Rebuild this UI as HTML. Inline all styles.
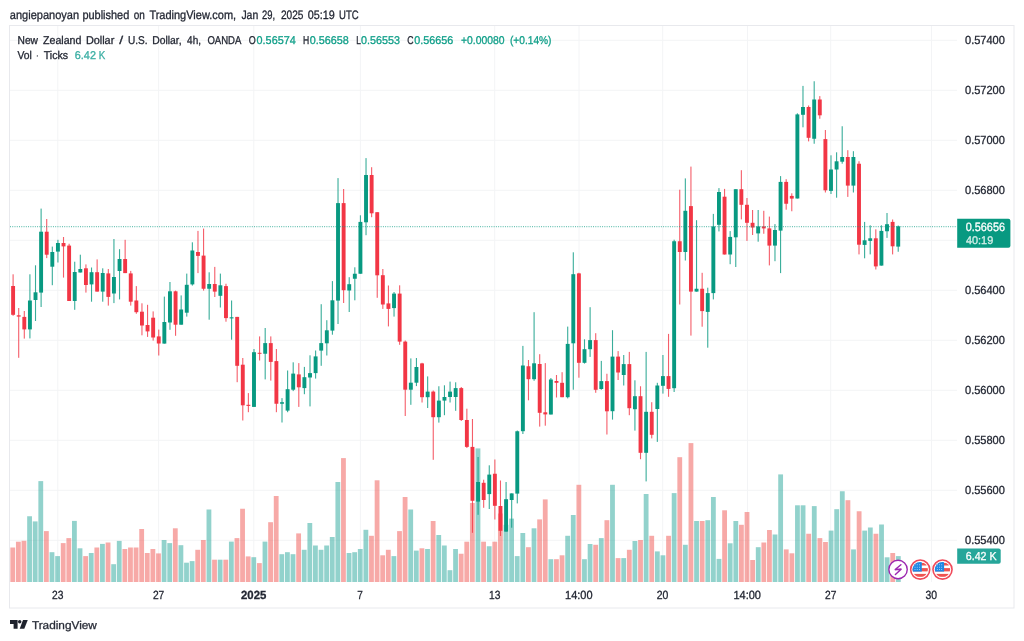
<!DOCTYPE html>
<html lang="en"><head><meta charset="utf-8"><title>NZDUSD chart</title>
<style>html,body{margin:0;padding:0;background:#fff;}body{width:1024px;height:641px;overflow:hidden;}svg{display:block;will-change:transform;}</style>
</head><body>
<svg width="1024" height="641" viewBox="0 0 1024 641" font-family="'Liberation Sans', Arial, sans-serif" text-rendering="geometricPrecision">
<rect width="1024" height="641" fill="#fff"/>
<g stroke="#f3f4f6" stroke-width="1">
<line x1="10" y1="40.3" x2="957" y2="40.3"/>
<line x1="10" y1="90.3" x2="957" y2="90.3"/>
<line x1="10" y1="140.3" x2="957" y2="140.3"/>
<line x1="10" y1="190.3" x2="957" y2="190.3"/>
<line x1="10" y1="240.3" x2="957" y2="240.3"/>
<line x1="10" y1="290.3" x2="957" y2="290.3"/>
<line x1="10" y1="340.3" x2="957" y2="340.3"/>
<line x1="10" y1="390.3" x2="957" y2="390.3"/>
<line x1="10" y1="440.3" x2="957" y2="440.3"/>
<line x1="10" y1="490.3" x2="957" y2="490.3"/>
<line x1="10" y1="540.3" x2="957" y2="540.3"/>
<line x1="57.8" y1="25.7" x2="57.8" y2="582"/>
<line x1="158.6" y1="25.7" x2="158.6" y2="582"/>
<line x1="253.8" y1="25.7" x2="253.8" y2="582"/>
<line x1="360.4" y1="25.7" x2="360.4" y2="582"/>
<line x1="494.7" y1="25.7" x2="494.7" y2="582"/>
<line x1="579.0" y1="25.7" x2="579.0" y2="582"/>
<line x1="662.7" y1="25.7" x2="662.7" y2="582"/>
<line x1="747.5" y1="25.7" x2="747.5" y2="582"/>
<line x1="830.7" y1="25.7" x2="830.7" y2="582"/>
<line x1="931.5" y1="25.7" x2="931.5" y2="582"/>
</g>
<g id="vol">
<rect x="10.35" y="547.50" width="4.8" height="34.50" fill="#ef5350" fill-opacity="0.5"/>
<rect x="15.96" y="541.70" width="4.8" height="40.30" fill="#ef5350" fill-opacity="0.5"/>
<rect x="21.56" y="540.80" width="4.8" height="41.20" fill="#ef5350" fill-opacity="0.5"/>
<rect x="27.17" y="516.25" width="4.8" height="65.75" fill="#26a69a" fill-opacity="0.5"/>
<rect x="32.77" y="521.40" width="4.8" height="60.60" fill="#26a69a" fill-opacity="0.5"/>
<rect x="38.38" y="481.10" width="4.8" height="100.90" fill="#26a69a" fill-opacity="0.5"/>
<rect x="43.98" y="531.10" width="4.8" height="50.90" fill="#ef5350" fill-opacity="0.5"/>
<rect x="49.59" y="552.20" width="4.8" height="29.80" fill="#26a69a" fill-opacity="0.5"/>
<rect x="55.19" y="556.10" width="4.8" height="25.90" fill="#26a69a" fill-opacity="0.5"/>
<rect x="60.80" y="543.10" width="4.8" height="38.90" fill="#ef5350" fill-opacity="0.5"/>
<rect x="66.40" y="538.10" width="4.8" height="43.90" fill="#ef5350" fill-opacity="0.5"/>
<rect x="72.00" y="520.90" width="4.8" height="61.10" fill="#26a69a" fill-opacity="0.5"/>
<rect x="77.61" y="548.30" width="4.8" height="33.70" fill="#26a69a" fill-opacity="0.5"/>
<rect x="83.22" y="556.10" width="4.8" height="25.90" fill="#ef5350" fill-opacity="0.5"/>
<rect x="88.82" y="553.00" width="4.8" height="29.00" fill="#26a69a" fill-opacity="0.5"/>
<rect x="94.42" y="547.50" width="4.8" height="34.50" fill="#ef5350" fill-opacity="0.5"/>
<rect x="100.03" y="543.90" width="4.8" height="38.10" fill="#26a69a" fill-opacity="0.5"/>
<rect x="105.64" y="542.50" width="4.8" height="39.50" fill="#ef5350" fill-opacity="0.5"/>
<rect x="111.24" y="564.20" width="4.8" height="17.80" fill="#26a69a" fill-opacity="0.5"/>
<rect x="116.84" y="540.90" width="4.8" height="41.10" fill="#26a69a" fill-opacity="0.5"/>
<rect x="122.45" y="549.00" width="4.8" height="33.00" fill="#ef5350" fill-opacity="0.5"/>
<rect x="128.06" y="547.50" width="4.8" height="34.50" fill="#ef5350" fill-opacity="0.5"/>
<rect x="133.66" y="547.50" width="4.8" height="34.50" fill="#ef5350" fill-opacity="0.5"/>
<rect x="139.27" y="529.00" width="4.8" height="53.00" fill="#ef5350" fill-opacity="0.5"/>
<rect x="144.87" y="553.00" width="4.8" height="29.00" fill="#ef5350" fill-opacity="0.5"/>
<rect x="150.47" y="549.00" width="4.8" height="33.00" fill="#ef5350" fill-opacity="0.5"/>
<rect x="156.08" y="553.40" width="4.8" height="28.60" fill="#ef5350" fill-opacity="0.5"/>
<rect x="161.69" y="540.00" width="4.8" height="42.00" fill="#26a69a" fill-opacity="0.5"/>
<rect x="167.29" y="543.10" width="4.8" height="38.90" fill="#26a69a" fill-opacity="0.5"/>
<rect x="172.90" y="528.30" width="4.8" height="53.70" fill="#ef5350" fill-opacity="0.5"/>
<rect x="178.50" y="545.20" width="4.8" height="36.80" fill="#26a69a" fill-opacity="0.5"/>
<rect x="184.11" y="562.70" width="4.8" height="19.30" fill="#26a69a" fill-opacity="0.5"/>
<rect x="189.71" y="561.10" width="4.8" height="20.90" fill="#26a69a" fill-opacity="0.5"/>
<rect x="195.31" y="549.80" width="4.8" height="32.20" fill="#ef5350" fill-opacity="0.5"/>
<rect x="200.92" y="540.00" width="4.8" height="42.00" fill="#ef5350" fill-opacity="0.5"/>
<rect x="206.53" y="509.50" width="4.8" height="72.50" fill="#26a69a" fill-opacity="0.5"/>
<rect x="212.13" y="559.70" width="4.8" height="22.30" fill="#ef5350" fill-opacity="0.5"/>
<rect x="217.74" y="559.70" width="4.8" height="22.30" fill="#26a69a" fill-opacity="0.5"/>
<rect x="223.34" y="559.70" width="4.8" height="22.30" fill="#ef5350" fill-opacity="0.5"/>
<rect x="228.95" y="541.60" width="4.8" height="40.40" fill="#26a69a" fill-opacity="0.5"/>
<rect x="234.55" y="538.10" width="4.8" height="43.90" fill="#ef5350" fill-opacity="0.5"/>
<rect x="240.16" y="508.75" width="4.8" height="73.25" fill="#ef5350" fill-opacity="0.5"/>
<rect x="245.76" y="556.40" width="4.8" height="25.60" fill="#ef5350" fill-opacity="0.5"/>
<rect x="251.37" y="557.20" width="4.8" height="24.80" fill="#26a69a" fill-opacity="0.5"/>
<rect x="256.97" y="563.10" width="4.8" height="18.90" fill="#ef5350" fill-opacity="0.5"/>
<rect x="262.58" y="541.60" width="4.8" height="40.40" fill="#26a69a" fill-opacity="0.5"/>
<rect x="268.18" y="522.20" width="4.8" height="59.80" fill="#ef5350" fill-opacity="0.5"/>
<rect x="273.79" y="496.00" width="4.8" height="86.00" fill="#ef5350" fill-opacity="0.5"/>
<rect x="279.39" y="554.20" width="4.8" height="27.80" fill="#26a69a" fill-opacity="0.5"/>
<rect x="285.00" y="552.20" width="4.8" height="29.80" fill="#26a69a" fill-opacity="0.5"/>
<rect x="290.60" y="554.20" width="4.8" height="27.80" fill="#26a69a" fill-opacity="0.5"/>
<rect x="296.21" y="533.40" width="4.8" height="48.60" fill="#ef5350" fill-opacity="0.5"/>
<rect x="301.81" y="549.80" width="4.8" height="32.20" fill="#26a69a" fill-opacity="0.5"/>
<rect x="307.42" y="523.00" width="4.8" height="59.00" fill="#26a69a" fill-opacity="0.5"/>
<rect x="313.02" y="545.50" width="4.8" height="36.50" fill="#26a69a" fill-opacity="0.5"/>
<rect x="318.63" y="549.80" width="4.8" height="32.20" fill="#26a69a" fill-opacity="0.5"/>
<rect x="324.23" y="545.50" width="4.8" height="36.50" fill="#26a69a" fill-opacity="0.5"/>
<rect x="329.84" y="537.00" width="4.8" height="45.00" fill="#26a69a" fill-opacity="0.5"/>
<rect x="335.44" y="482.00" width="4.8" height="100.00" fill="#26a69a" fill-opacity="0.5"/>
<rect x="341.05" y="458.10" width="4.8" height="123.90" fill="#ef5350" fill-opacity="0.5"/>
<rect x="346.65" y="553.00" width="4.8" height="29.00" fill="#26a69a" fill-opacity="0.5"/>
<rect x="352.26" y="552.20" width="4.8" height="29.80" fill="#26a69a" fill-opacity="0.5"/>
<rect x="357.86" y="549.00" width="4.8" height="33.00" fill="#26a69a" fill-opacity="0.5"/>
<rect x="363.47" y="529.80" width="4.8" height="52.20" fill="#26a69a" fill-opacity="0.5"/>
<rect x="369.07" y="535.80" width="4.8" height="46.20" fill="#ef5350" fill-opacity="0.5"/>
<rect x="374.68" y="480.30" width="4.8" height="101.70" fill="#ef5350" fill-opacity="0.5"/>
<rect x="380.28" y="555.30" width="4.8" height="26.70" fill="#ef5350" fill-opacity="0.5"/>
<rect x="385.89" y="549.80" width="4.8" height="32.20" fill="#ef5350" fill-opacity="0.5"/>
<rect x="391.49" y="556.10" width="4.8" height="25.90" fill="#26a69a" fill-opacity="0.5"/>
<rect x="397.10" y="531.10" width="4.8" height="50.90" fill="#ef5350" fill-opacity="0.5"/>
<rect x="402.70" y="497.00" width="4.8" height="85.00" fill="#ef5350" fill-opacity="0.5"/>
<rect x="408.31" y="509.50" width="4.8" height="72.50" fill="#26a69a" fill-opacity="0.5"/>
<rect x="413.91" y="550.60" width="4.8" height="31.40" fill="#26a69a" fill-opacity="0.5"/>
<rect x="419.52" y="548.30" width="4.8" height="33.70" fill="#ef5350" fill-opacity="0.5"/>
<rect x="425.12" y="549.00" width="4.8" height="33.00" fill="#26a69a" fill-opacity="0.5"/>
<rect x="430.73" y="521.00" width="4.8" height="61.00" fill="#ef5350" fill-opacity="0.5"/>
<rect x="436.33" y="535.00" width="4.8" height="47.00" fill="#26a69a" fill-opacity="0.5"/>
<rect x="441.94" y="545.50" width="4.8" height="36.50" fill="#26a69a" fill-opacity="0.5"/>
<rect x="447.54" y="570.20" width="4.8" height="11.80" fill="#26a69a" fill-opacity="0.5"/>
<rect x="453.15" y="549.00" width="4.8" height="33.00" fill="#26a69a" fill-opacity="0.5"/>
<rect x="458.75" y="553.75" width="4.8" height="28.25" fill="#ef5350" fill-opacity="0.5"/>
<rect x="464.36" y="541.70" width="4.8" height="40.30" fill="#ef5350" fill-opacity="0.5"/>
<rect x="469.96" y="503.00" width="4.8" height="79.00" fill="#ef5350" fill-opacity="0.5"/>
<rect x="475.57" y="448.40" width="4.8" height="133.60" fill="#26a69a" fill-opacity="0.5"/>
<rect x="481.17" y="541.70" width="4.8" height="40.30" fill="#ef5350" fill-opacity="0.5"/>
<rect x="486.78" y="546.25" width="4.8" height="35.75" fill="#26a69a" fill-opacity="0.5"/>
<rect x="492.38" y="541.70" width="4.8" height="40.30" fill="#ef5350" fill-opacity="0.5"/>
<rect x="497.99" y="513.50" width="4.8" height="68.50" fill="#ef5350" fill-opacity="0.5"/>
<rect x="503.59" y="524.80" width="4.8" height="57.20" fill="#26a69a" fill-opacity="0.5"/>
<rect x="509.20" y="518.60" width="4.8" height="63.40" fill="#26a69a" fill-opacity="0.5"/>
<rect x="514.80" y="556.10" width="4.8" height="25.90" fill="#26a69a" fill-opacity="0.5"/>
<rect x="520.41" y="533.00" width="4.8" height="49.00" fill="#26a69a" fill-opacity="0.5"/>
<rect x="526.01" y="547.20" width="4.8" height="34.80" fill="#ef5350" fill-opacity="0.5"/>
<rect x="531.62" y="528.30" width="4.8" height="53.70" fill="#26a69a" fill-opacity="0.5"/>
<rect x="537.22" y="519.40" width="4.8" height="62.60" fill="#ef5350" fill-opacity="0.5"/>
<rect x="542.83" y="499.40" width="4.8" height="82.60" fill="#ef5350" fill-opacity="0.5"/>
<rect x="548.43" y="559.20" width="4.8" height="22.80" fill="#26a69a" fill-opacity="0.5"/>
<rect x="554.04" y="559.20" width="4.8" height="22.80" fill="#ef5350" fill-opacity="0.5"/>
<rect x="559.64" y="555.30" width="4.8" height="26.70" fill="#ef5350" fill-opacity="0.5"/>
<rect x="565.25" y="535.80" width="4.8" height="46.20" fill="#26a69a" fill-opacity="0.5"/>
<rect x="570.85" y="515.00" width="4.8" height="67.00" fill="#26a69a" fill-opacity="0.5"/>
<rect x="576.46" y="484.80" width="4.8" height="97.20" fill="#ef5350" fill-opacity="0.5"/>
<rect x="582.06" y="559.20" width="4.8" height="22.80" fill="#26a69a" fill-opacity="0.5"/>
<rect x="587.67" y="544.00" width="4.8" height="38.00" fill="#26a69a" fill-opacity="0.5"/>
<rect x="593.27" y="544.80" width="4.8" height="37.20" fill="#ef5350" fill-opacity="0.5"/>
<rect x="598.88" y="538.10" width="4.8" height="43.90" fill="#26a69a" fill-opacity="0.5"/>
<rect x="604.48" y="520.20" width="4.8" height="61.80" fill="#ef5350" fill-opacity="0.5"/>
<rect x="610.09" y="484.80" width="4.8" height="97.20" fill="#26a69a" fill-opacity="0.5"/>
<rect x="615.69" y="558.10" width="4.8" height="23.90" fill="#ef5350" fill-opacity="0.5"/>
<rect x="621.30" y="558.10" width="4.8" height="23.90" fill="#26a69a" fill-opacity="0.5"/>
<rect x="626.90" y="549.80" width="4.8" height="32.20" fill="#ef5350" fill-opacity="0.5"/>
<rect x="632.51" y="541.00" width="4.8" height="41.00" fill="#26a69a" fill-opacity="0.5"/>
<rect x="638.11" y="540.00" width="4.8" height="42.00" fill="#ef5350" fill-opacity="0.5"/>
<rect x="643.72" y="494.00" width="4.8" height="88.00" fill="#26a69a" fill-opacity="0.5"/>
<rect x="649.32" y="535.80" width="4.8" height="46.20" fill="#ef5350" fill-opacity="0.5"/>
<rect x="654.93" y="551.40" width="4.8" height="30.60" fill="#26a69a" fill-opacity="0.5"/>
<rect x="660.53" y="555.30" width="4.8" height="26.70" fill="#26a69a" fill-opacity="0.5"/>
<rect x="666.14" y="535.80" width="4.8" height="46.20" fill="#ef5350" fill-opacity="0.5"/>
<rect x="671.74" y="493.10" width="4.8" height="88.90" fill="#26a69a" fill-opacity="0.5"/>
<rect x="677.35" y="457.20" width="4.8" height="124.80" fill="#ef5350" fill-opacity="0.5"/>
<rect x="682.95" y="544.80" width="4.8" height="37.20" fill="#26a69a" fill-opacity="0.5"/>
<rect x="688.56" y="443.10" width="4.8" height="138.90" fill="#ef5350" fill-opacity="0.5"/>
<rect x="694.16" y="521.00" width="4.8" height="61.00" fill="#26a69a" fill-opacity="0.5"/>
<rect x="699.77" y="521.00" width="4.8" height="61.00" fill="#ef5350" fill-opacity="0.5"/>
<rect x="705.37" y="520.20" width="4.8" height="61.80" fill="#26a69a" fill-opacity="0.5"/>
<rect x="710.98" y="497.00" width="4.8" height="85.00" fill="#26a69a" fill-opacity="0.5"/>
<rect x="716.58" y="558.90" width="4.8" height="23.10" fill="#26a69a" fill-opacity="0.5"/>
<rect x="722.19" y="510.30" width="4.8" height="71.70" fill="#ef5350" fill-opacity="0.5"/>
<rect x="727.79" y="543.30" width="4.8" height="38.70" fill="#26a69a" fill-opacity="0.5"/>
<rect x="733.40" y="521.00" width="4.8" height="61.00" fill="#26a69a" fill-opacity="0.5"/>
<rect x="739.00" y="524.80" width="4.8" height="57.20" fill="#ef5350" fill-opacity="0.5"/>
<rect x="744.61" y="512.00" width="4.8" height="70.00" fill="#ef5350" fill-opacity="0.5"/>
<rect x="750.21" y="560.00" width="4.8" height="22.00" fill="#ef5350" fill-opacity="0.5"/>
<rect x="755.82" y="547.20" width="4.8" height="34.80" fill="#26a69a" fill-opacity="0.5"/>
<rect x="761.42" y="542.50" width="4.8" height="39.50" fill="#ef5350" fill-opacity="0.5"/>
<rect x="767.03" y="530.00" width="4.8" height="52.00" fill="#ef5350" fill-opacity="0.5"/>
<rect x="772.63" y="534.50" width="4.8" height="47.50" fill="#26a69a" fill-opacity="0.5"/>
<rect x="778.24" y="474.40" width="4.8" height="107.60" fill="#26a69a" fill-opacity="0.5"/>
<rect x="783.84" y="549.40" width="4.8" height="32.60" fill="#ef5350" fill-opacity="0.5"/>
<rect x="789.45" y="553.30" width="4.8" height="28.70" fill="#ef5350" fill-opacity="0.5"/>
<rect x="795.05" y="505.30" width="4.8" height="76.70" fill="#26a69a" fill-opacity="0.5"/>
<rect x="800.66" y="505.30" width="4.8" height="76.70" fill="#26a69a" fill-opacity="0.5"/>
<rect x="806.26" y="533.75" width="4.8" height="48.25" fill="#ef5350" fill-opacity="0.5"/>
<rect x="811.87" y="506.10" width="4.8" height="75.90" fill="#26a69a" fill-opacity="0.5"/>
<rect x="817.47" y="538.10" width="4.8" height="43.90" fill="#ef5350" fill-opacity="0.5"/>
<rect x="823.08" y="542.00" width="4.8" height="40.00" fill="#ef5350" fill-opacity="0.5"/>
<rect x="828.68" y="530.60" width="4.8" height="51.40" fill="#26a69a" fill-opacity="0.5"/>
<rect x="834.29" y="509.20" width="4.8" height="72.80" fill="#26a69a" fill-opacity="0.5"/>
<rect x="839.89" y="491.25" width="4.8" height="90.75" fill="#26a69a" fill-opacity="0.5"/>
<rect x="845.50" y="500.20" width="4.8" height="81.80" fill="#ef5350" fill-opacity="0.5"/>
<rect x="851.10" y="549.40" width="4.8" height="32.60" fill="#26a69a" fill-opacity="0.5"/>
<rect x="856.71" y="511.25" width="4.8" height="70.75" fill="#ef5350" fill-opacity="0.5"/>
<rect x="862.31" y="530.60" width="4.8" height="51.40" fill="#26a69a" fill-opacity="0.5"/>
<rect x="867.92" y="527.50" width="4.8" height="54.50" fill="#26a69a" fill-opacity="0.5"/>
<rect x="873.52" y="533.75" width="4.8" height="48.25" fill="#ef5350" fill-opacity="0.5"/>
<rect x="879.13" y="524.50" width="4.8" height="57.50" fill="#26a69a" fill-opacity="0.5"/>
<rect x="884.73" y="557.30" width="4.8" height="24.70" fill="#26a69a" fill-opacity="0.5"/>
<rect x="890.34" y="553.00" width="4.8" height="29.00" fill="#ef5350" fill-opacity="0.5"/>
<rect x="895.94" y="556.10" width="4.8" height="25.90" fill="#26a69a" fill-opacity="0.5"/>
</g>
<g id="candles">
<rect x="12.55" y="274.30" width="1.1" height="41.50" fill="#F23645" opacity="0.8"/>
<rect x="11.15" y="286.00" width="3.9" height="28.80" fill="#F23645"/>
<rect x="18.15" y="308.00" width="1.1" height="49.80" fill="#F23645" opacity="0.8"/>
<rect x="16.75" y="315.30" width="3.9" height="1.30" fill="#F23645"/>
<rect x="23.75" y="311.00" width="1.1" height="27.60" fill="#F23645" opacity="0.8"/>
<rect x="22.35" y="316.90" width="3.9" height="12.50" fill="#F23645"/>
<rect x="29.36" y="274.30" width="1.1" height="64.10" fill="#089981" opacity="0.8"/>
<rect x="27.96" y="300.50" width="3.9" height="28.90" fill="#089981"/>
<rect x="34.96" y="265.30" width="1.1" height="55.70" fill="#089981" opacity="0.8"/>
<rect x="33.56" y="292.30" width="3.9" height="7.70" fill="#089981"/>
<rect x="40.56" y="208.60" width="1.1" height="98.40" fill="#089981" opacity="0.8"/>
<rect x="39.16" y="231.70" width="3.9" height="60.90" fill="#089981"/>
<rect x="46.16" y="219.00" width="1.1" height="39.10" fill="#F23645" opacity="0.8"/>
<rect x="44.76" y="231.70" width="3.9" height="23.00" fill="#F23645"/>
<rect x="51.76" y="246.60" width="1.1" height="38.60" fill="#089981" opacity="0.8"/>
<rect x="50.36" y="252.00" width="3.9" height="14.70" fill="#089981"/>
<rect x="57.37" y="239.80" width="1.1" height="22.70" fill="#089981" opacity="0.8"/>
<rect x="55.97" y="243.00" width="3.9" height="8.60" fill="#089981"/>
<rect x="62.97" y="237.00" width="1.1" height="40.60" fill="#F23645" opacity="0.8"/>
<rect x="61.57" y="243.00" width="3.9" height="3.40" fill="#F23645"/>
<rect x="68.57" y="243.75" width="1.1" height="57.25" fill="#F23645" opacity="0.8"/>
<rect x="67.17" y="245.60" width="3.9" height="55.40" fill="#F23645"/>
<rect x="74.17" y="261.70" width="1.1" height="48.10" fill="#089981" opacity="0.8"/>
<rect x="72.77" y="272.00" width="3.9" height="29.00" fill="#089981"/>
<rect x="79.77" y="254.70" width="1.1" height="17.80" fill="#089981" opacity="0.8"/>
<rect x="78.37" y="269.00" width="3.9" height="3.50" fill="#089981"/>
<rect x="85.38" y="264.40" width="1.1" height="28.20" fill="#F23645" opacity="0.8"/>
<rect x="83.98" y="268.30" width="3.9" height="16.70" fill="#F23645"/>
<rect x="90.98" y="267.50" width="1.1" height="34.20" fill="#089981" opacity="0.8"/>
<rect x="89.58" y="272.20" width="3.9" height="12.20" fill="#089981"/>
<rect x="96.58" y="259.40" width="1.1" height="32.20" fill="#F23645" opacity="0.8"/>
<rect x="95.18" y="272.20" width="3.9" height="19.40" fill="#F23645"/>
<rect x="102.18" y="268.30" width="1.1" height="33.40" fill="#089981" opacity="0.8"/>
<rect x="100.78" y="273.00" width="3.9" height="18.60" fill="#089981"/>
<rect x="107.78" y="269.00" width="1.1" height="36.60" fill="#F23645" opacity="0.8"/>
<rect x="106.38" y="273.40" width="3.9" height="23.50" fill="#F23645"/>
<rect x="113.39" y="239.00" width="1.1" height="64.10" fill="#089981" opacity="0.8"/>
<rect x="111.99" y="277.00" width="3.9" height="16.50" fill="#089981"/>
<rect x="118.99" y="249.20" width="1.1" height="50.20" fill="#089981" opacity="0.8"/>
<rect x="117.59" y="259.00" width="3.9" height="12.00" fill="#089981"/>
<rect x="124.59" y="239.80" width="1.1" height="33.30" fill="#F23645" opacity="0.8"/>
<rect x="123.19" y="259.00" width="3.9" height="14.10" fill="#F23645"/>
<rect x="130.19" y="270.90" width="1.1" height="34.70" fill="#F23645" opacity="0.8"/>
<rect x="128.79" y="273.40" width="3.9" height="28.30" fill="#F23645"/>
<rect x="135.79" y="286.10" width="1.1" height="27.65" fill="#F23645" opacity="0.8"/>
<rect x="134.39" y="300.50" width="3.9" height="11.70" fill="#F23645"/>
<rect x="141.40" y="303.30" width="1.1" height="32.00" fill="#F23645" opacity="0.8"/>
<rect x="140.00" y="311.70" width="3.9" height="13.80" fill="#F23645"/>
<rect x="147.00" y="304.80" width="1.1" height="32.10" fill="#F23645" opacity="0.8"/>
<rect x="145.60" y="325.00" width="3.9" height="6.40" fill="#F23645"/>
<rect x="152.60" y="311.40" width="1.1" height="29.20" fill="#F23645" opacity="0.8"/>
<rect x="151.20" y="317.70" width="3.9" height="19.80" fill="#F23645"/>
<rect x="158.20" y="329.60" width="1.1" height="25.90" fill="#F23645" opacity="0.8"/>
<rect x="156.80" y="336.40" width="3.9" height="7.10" fill="#F23645"/>
<rect x="163.80" y="296.60" width="1.1" height="47.00" fill="#089981" opacity="0.8"/>
<rect x="162.40" y="322.00" width="3.9" height="21.60" fill="#089981"/>
<rect x="169.41" y="282.00" width="1.1" height="47.80" fill="#089981" opacity="0.8"/>
<rect x="168.01" y="291.30" width="3.9" height="31.20" fill="#089981"/>
<rect x="175.01" y="290.60" width="1.1" height="45.20" fill="#F23645" opacity="0.8"/>
<rect x="173.61" y="291.30" width="3.9" height="33.40" fill="#F23645"/>
<rect x="180.61" y="295.40" width="1.1" height="29.30" fill="#089981" opacity="0.8"/>
<rect x="179.21" y="309.50" width="3.9" height="15.20" fill="#089981"/>
<rect x="186.21" y="273.60" width="1.1" height="43.00" fill="#089981" opacity="0.8"/>
<rect x="184.81" y="284.80" width="3.9" height="27.90" fill="#089981"/>
<rect x="191.81" y="242.30" width="1.1" height="43.30" fill="#089981" opacity="0.8"/>
<rect x="190.41" y="250.50" width="3.9" height="33.90" fill="#089981"/>
<rect x="197.42" y="230.90" width="1.1" height="42.20" fill="#F23645" opacity="0.8"/>
<rect x="196.02" y="252.00" width="3.9" height="3.90" fill="#F23645"/>
<rect x="203.02" y="228.60" width="1.1" height="62.00" fill="#F23645" opacity="0.8"/>
<rect x="201.62" y="255.60" width="3.9" height="33.15" fill="#F23645"/>
<rect x="208.62" y="272.30" width="1.1" height="47.40" fill="#089981" opacity="0.8"/>
<rect x="207.22" y="284.00" width="3.9" height="4.75" fill="#089981"/>
<rect x="214.22" y="266.90" width="1.1" height="30.10" fill="#F23645" opacity="0.8"/>
<rect x="212.82" y="284.00" width="3.9" height="7.60" fill="#F23645"/>
<rect x="219.82" y="273.60" width="1.1" height="33.90" fill="#089981" opacity="0.8"/>
<rect x="218.42" y="285.30" width="3.9" height="10.50" fill="#089981"/>
<rect x="225.43" y="283.75" width="1.1" height="37.95" fill="#F23645" opacity="0.8"/>
<rect x="224.03" y="286.10" width="3.9" height="32.00" fill="#F23645"/>
<rect x="231.03" y="300.50" width="1.1" height="39.20" fill="#089981" opacity="0.8"/>
<rect x="229.63" y="317.30" width="3.9" height="1.10" fill="#089981"/>
<rect x="236.63" y="316.90" width="1.1" height="65.30" fill="#F23645" opacity="0.8"/>
<rect x="235.23" y="316.90" width="3.9" height="48.90" fill="#F23645"/>
<rect x="242.23" y="358.00" width="1.1" height="62.50" fill="#F23645" opacity="0.8"/>
<rect x="240.83" y="364.70" width="3.9" height="40.60" fill="#F23645"/>
<rect x="247.83" y="393.10" width="1.1" height="19.10" fill="#F23645" opacity="0.8"/>
<rect x="246.43" y="404.80" width="3.9" height="1.10" fill="#F23645"/>
<rect x="253.44" y="349.00" width="1.1" height="57.90" fill="#089981" opacity="0.8"/>
<rect x="252.04" y="352.20" width="3.9" height="54.70" fill="#089981"/>
<rect x="259.04" y="336.40" width="1.1" height="24.10" fill="#F23645" opacity="0.8"/>
<rect x="257.64" y="352.80" width="3.9" height="1.00" fill="#F23645"/>
<rect x="264.64" y="328.00" width="1.1" height="51.40" fill="#089981" opacity="0.8"/>
<rect x="263.24" y="343.10" width="3.9" height="10.65" fill="#089981"/>
<rect x="270.24" y="336.40" width="1.1" height="44.20" fill="#F23645" opacity="0.8"/>
<rect x="268.84" y="343.10" width="3.9" height="18.80" fill="#F23645"/>
<rect x="275.84" y="349.00" width="1.1" height="63.20" fill="#F23645" opacity="0.8"/>
<rect x="274.44" y="361.10" width="3.9" height="42.65" fill="#F23645"/>
<rect x="281.45" y="398.10" width="1.1" height="24.40" fill="#089981" opacity="0.8"/>
<rect x="280.05" y="402.20" width="3.9" height="1.55" fill="#089981"/>
<rect x="287.05" y="370.50" width="1.1" height="41.70" fill="#089981" opacity="0.8"/>
<rect x="285.65" y="389.20" width="3.9" height="21.40" fill="#089981"/>
<rect x="292.65" y="362.30" width="1.1" height="28.80" fill="#089981" opacity="0.8"/>
<rect x="291.25" y="373.60" width="3.9" height="16.10" fill="#089981"/>
<rect x="298.25" y="363.10" width="1.1" height="43.80" fill="#F23645" opacity="0.8"/>
<rect x="296.85" y="374.40" width="3.9" height="12.90" fill="#F23645"/>
<rect x="303.85" y="366.90" width="1.1" height="27.30" fill="#089981" opacity="0.8"/>
<rect x="302.45" y="377.20" width="3.9" height="10.90" fill="#089981"/>
<rect x="309.46" y="355.30" width="1.1" height="51.10" fill="#089981" opacity="0.8"/>
<rect x="308.06" y="373.10" width="3.9" height="4.40" fill="#089981"/>
<rect x="315.06" y="350.50" width="1.1" height="28.10" fill="#089981" opacity="0.8"/>
<rect x="313.66" y="356.40" width="3.9" height="16.70" fill="#089981"/>
<rect x="320.66" y="304.20" width="1.1" height="61.60" fill="#089981" opacity="0.8"/>
<rect x="319.26" y="343.10" width="3.9" height="7.50" fill="#089981"/>
<rect x="326.26" y="320.20" width="1.1" height="35.30" fill="#089981" opacity="0.8"/>
<rect x="324.86" y="330.30" width="3.9" height="13.00" fill="#089981"/>
<rect x="331.86" y="281.10" width="1.1" height="53.60" fill="#089981" opacity="0.8"/>
<rect x="330.46" y="300.30" width="3.9" height="30.30" fill="#089981"/>
<rect x="337.47" y="178.10" width="1.1" height="145.90" fill="#089981" opacity="0.8"/>
<rect x="336.07" y="203.10" width="3.9" height="97.50" fill="#089981"/>
<rect x="343.07" y="189.00" width="1.1" height="114.00" fill="#F23645" opacity="0.8"/>
<rect x="341.67" y="203.10" width="3.9" height="87.10" fill="#F23645"/>
<rect x="348.67" y="277.20" width="1.1" height="34.80" fill="#089981" opacity="0.8"/>
<rect x="347.27" y="284.20" width="3.9" height="6.30" fill="#089981"/>
<rect x="354.27" y="267.30" width="1.1" height="33.00" fill="#089981" opacity="0.8"/>
<rect x="352.87" y="273.75" width="3.9" height="5.00" fill="#089981"/>
<rect x="359.87" y="215.30" width="1.1" height="58.45" fill="#089981" opacity="0.8"/>
<rect x="358.47" y="221.90" width="3.9" height="51.85" fill="#089981"/>
<rect x="365.48" y="158.10" width="1.1" height="77.10" fill="#089981" opacity="0.8"/>
<rect x="364.08" y="175.00" width="3.9" height="47.30" fill="#089981"/>
<rect x="371.08" y="167.20" width="1.1" height="50.00" fill="#F23645" opacity="0.8"/>
<rect x="369.68" y="175.00" width="3.9" height="38.30" fill="#F23645"/>
<rect x="376.68" y="212.20" width="1.1" height="85.60" fill="#F23645" opacity="0.8"/>
<rect x="375.28" y="212.20" width="3.9" height="63.10" fill="#F23645"/>
<rect x="382.28" y="269.00" width="1.1" height="39.90" fill="#F23645" opacity="0.8"/>
<rect x="380.88" y="275.20" width="3.9" height="29.30" fill="#F23645"/>
<rect x="387.88" y="285.50" width="1.1" height="40.90" fill="#F23645" opacity="0.8"/>
<rect x="386.48" y="303.40" width="3.9" height="5.50" fill="#F23645"/>
<rect x="393.49" y="292.00" width="1.1" height="24.60" fill="#089981" opacity="0.8"/>
<rect x="392.09" y="293.60" width="3.9" height="14.50" fill="#089981"/>
<rect x="399.09" y="285.30" width="1.1" height="59.50" fill="#F23645" opacity="0.8"/>
<rect x="397.69" y="293.60" width="3.9" height="48.00" fill="#F23645"/>
<rect x="404.69" y="340.50" width="1.1" height="75.50" fill="#F23645" opacity="0.8"/>
<rect x="403.29" y="341.60" width="3.9" height="48.10" fill="#F23645"/>
<rect x="410.29" y="358.40" width="1.1" height="46.40" fill="#089981" opacity="0.8"/>
<rect x="408.89" y="382.70" width="3.9" height="7.00" fill="#089981"/>
<rect x="415.89" y="358.00" width="1.1" height="28.10" fill="#089981" opacity="0.8"/>
<rect x="414.49" y="367.00" width="3.9" height="15.70" fill="#089981"/>
<rect x="421.50" y="362.80" width="1.1" height="39.70" fill="#F23645" opacity="0.8"/>
<rect x="420.10" y="363.40" width="3.9" height="33.80" fill="#F23645"/>
<rect x="427.10" y="376.40" width="1.1" height="31.60" fill="#089981" opacity="0.8"/>
<rect x="425.70" y="391.60" width="3.9" height="5.60" fill="#089981"/>
<rect x="432.70" y="390.50" width="1.1" height="69.30" fill="#F23645" opacity="0.8"/>
<rect x="431.30" y="391.60" width="3.9" height="25.60" fill="#F23645"/>
<rect x="438.30" y="386.25" width="1.1" height="36.35" fill="#089981" opacity="0.8"/>
<rect x="436.90" y="400.60" width="3.9" height="16.60" fill="#089981"/>
<rect x="443.90" y="385.30" width="1.1" height="29.90" fill="#089981" opacity="0.8"/>
<rect x="442.50" y="397.00" width="3.9" height="3.60" fill="#089981"/>
<rect x="449.51" y="381.60" width="1.1" height="20.90" fill="#089981" opacity="0.8"/>
<rect x="448.11" y="391.60" width="3.9" height="5.40" fill="#089981"/>
<rect x="455.11" y="382.30" width="1.1" height="28.50" fill="#089981" opacity="0.8"/>
<rect x="453.71" y="388.10" width="3.9" height="8.90" fill="#089981"/>
<rect x="460.71" y="387.00" width="1.1" height="34.00" fill="#F23645" opacity="0.8"/>
<rect x="459.31" y="388.10" width="3.9" height="31.90" fill="#F23645"/>
<rect x="466.31" y="408.70" width="1.1" height="39.30" fill="#F23645" opacity="0.8"/>
<rect x="464.91" y="420.00" width="3.9" height="26.90" fill="#F23645"/>
<rect x="471.91" y="419.00" width="1.1" height="113.80" fill="#F23645" opacity="0.8"/>
<rect x="470.51" y="446.90" width="3.9" height="53.90" fill="#F23645"/>
<rect x="477.52" y="457.00" width="1.1" height="57.80" fill="#089981" opacity="0.8"/>
<rect x="476.12" y="482.00" width="3.9" height="19.60" fill="#089981"/>
<rect x="483.12" y="479.70" width="1.1" height="28.10" fill="#F23645" opacity="0.8"/>
<rect x="481.72" y="482.80" width="3.9" height="17.20" fill="#F23645"/>
<rect x="488.72" y="465.30" width="1.1" height="43.70" fill="#089981" opacity="0.8"/>
<rect x="487.32" y="474.60" width="3.9" height="19.50" fill="#089981"/>
<rect x="494.32" y="459.50" width="1.1" height="60.00" fill="#F23645" opacity="0.8"/>
<rect x="492.92" y="473.75" width="3.9" height="32.05" fill="#F23645"/>
<rect x="499.92" y="480.50" width="1.1" height="55.50" fill="#F23645" opacity="0.8"/>
<rect x="498.52" y="506.00" width="3.9" height="24.80" fill="#F23645"/>
<rect x="505.53" y="482.00" width="1.1" height="49.60" fill="#089981" opacity="0.8"/>
<rect x="504.13" y="499.20" width="3.9" height="32.40" fill="#089981"/>
<rect x="511.13" y="493.40" width="1.1" height="34.30" fill="#089981" opacity="0.8"/>
<rect x="509.73" y="493.40" width="3.9" height="6.60" fill="#089981"/>
<rect x="516.73" y="430.50" width="1.1" height="72.90" fill="#089981" opacity="0.8"/>
<rect x="515.33" y="431.25" width="3.9" height="62.35" fill="#089981"/>
<rect x="522.33" y="345.90" width="1.1" height="88.10" fill="#089981" opacity="0.8"/>
<rect x="520.93" y="365.50" width="3.9" height="65.70" fill="#089981"/>
<rect x="527.93" y="360.00" width="1.1" height="40.30" fill="#F23645" opacity="0.8"/>
<rect x="526.53" y="366.25" width="3.9" height="12.95" fill="#F23645"/>
<rect x="533.54" y="312.20" width="1.1" height="68.60" fill="#089981" opacity="0.8"/>
<rect x="532.14" y="363.30" width="3.9" height="15.90" fill="#089981"/>
<rect x="539.14" y="354.20" width="1.1" height="72.40" fill="#F23645" opacity="0.8"/>
<rect x="537.74" y="364.00" width="3.9" height="48.80" fill="#F23645"/>
<rect x="544.74" y="363.10" width="1.1" height="62.60" fill="#F23645" opacity="0.8"/>
<rect x="543.34" y="412.30" width="3.9" height="2.10" fill="#F23645"/>
<rect x="550.34" y="378.00" width="1.1" height="36.50" fill="#089981" opacity="0.8"/>
<rect x="548.94" y="379.50" width="3.9" height="35.00" fill="#089981"/>
<rect x="555.94" y="375.00" width="1.1" height="22.50" fill="#F23645" opacity="0.8"/>
<rect x="554.54" y="381.00" width="3.9" height="1.80" fill="#F23645"/>
<rect x="561.55" y="372.20" width="1.1" height="25.00" fill="#F23645" opacity="0.8"/>
<rect x="560.15" y="382.80" width="3.9" height="14.40" fill="#F23645"/>
<rect x="567.15" y="326.60" width="1.1" height="71.80" fill="#089981" opacity="0.8"/>
<rect x="565.75" y="343.90" width="3.9" height="53.30" fill="#089981"/>
<rect x="572.75" y="252.30" width="1.1" height="137.40" fill="#089981" opacity="0.8"/>
<rect x="571.35" y="274.20" width="3.9" height="69.10" fill="#089981"/>
<rect x="578.35" y="272.80" width="1.1" height="104.90" fill="#F23645" opacity="0.8"/>
<rect x="576.95" y="273.40" width="3.9" height="89.40" fill="#F23645"/>
<rect x="583.95" y="339.30" width="1.1" height="24.30" fill="#089981" opacity="0.8"/>
<rect x="582.55" y="349.20" width="3.9" height="13.60" fill="#089981"/>
<rect x="589.56" y="307.20" width="1.1" height="49.70" fill="#089981" opacity="0.8"/>
<rect x="588.16" y="340.10" width="3.9" height="9.10" fill="#089981"/>
<rect x="595.16" y="333.20" width="1.1" height="59.60" fill="#F23645" opacity="0.8"/>
<rect x="593.76" y="340.10" width="3.9" height="49.70" fill="#F23645"/>
<rect x="600.76" y="360.90" width="1.1" height="28.90" fill="#089981" opacity="0.8"/>
<rect x="599.36" y="381.10" width="3.9" height="7.90" fill="#089981"/>
<rect x="606.36" y="373.75" width="1.1" height="60.75" fill="#F23645" opacity="0.8"/>
<rect x="604.96" y="381.10" width="3.9" height="30.20" fill="#F23645"/>
<rect x="611.96" y="330.20" width="1.1" height="89.40" fill="#089981" opacity="0.8"/>
<rect x="610.56" y="356.60" width="3.9" height="54.60" fill="#089981"/>
<rect x="617.57" y="351.10" width="1.1" height="28.90" fill="#F23645" opacity="0.8"/>
<rect x="616.17" y="356.60" width="3.9" height="15.90" fill="#F23645"/>
<rect x="623.17" y="355.00" width="1.1" height="30.50" fill="#089981" opacity="0.8"/>
<rect x="621.77" y="364.10" width="3.9" height="10.90" fill="#089981"/>
<rect x="628.77" y="351.90" width="1.1" height="63.30" fill="#F23645" opacity="0.8"/>
<rect x="627.37" y="364.10" width="3.9" height="44.10" fill="#F23645"/>
<rect x="634.37" y="380.30" width="1.1" height="50.30" fill="#089981" opacity="0.8"/>
<rect x="632.97" y="396.20" width="3.9" height="13.00" fill="#089981"/>
<rect x="639.97" y="386.25" width="1.1" height="72.95" fill="#F23645" opacity="0.8"/>
<rect x="638.57" y="396.20" width="3.9" height="56.60" fill="#F23645"/>
<rect x="645.58" y="351.90" width="1.1" height="129.50" fill="#089981" opacity="0.8"/>
<rect x="644.18" y="411.80" width="3.9" height="41.00" fill="#089981"/>
<rect x="651.18" y="402.20" width="1.1" height="36.20" fill="#F23645" opacity="0.8"/>
<rect x="649.78" y="411.80" width="3.9" height="23.00" fill="#F23645"/>
<rect x="656.78" y="382.80" width="1.1" height="59.10" fill="#089981" opacity="0.8"/>
<rect x="655.38" y="385.50" width="3.9" height="23.50" fill="#089981"/>
<rect x="662.38" y="355.00" width="1.1" height="38.60" fill="#089981" opacity="0.8"/>
<rect x="660.98" y="376.10" width="3.9" height="9.70" fill="#089981"/>
<rect x="667.98" y="333.90" width="1.1" height="62.90" fill="#F23645" opacity="0.8"/>
<rect x="666.58" y="376.10" width="3.9" height="12.80" fill="#F23645"/>
<rect x="673.59" y="239.70" width="1.1" height="152.30" fill="#089981" opacity="0.8"/>
<rect x="672.19" y="241.25" width="3.9" height="146.95" fill="#089981"/>
<rect x="679.19" y="189.70" width="1.1" height="114.80" fill="#F23645" opacity="0.8"/>
<rect x="677.79" y="241.25" width="3.9" height="10.75" fill="#F23645"/>
<rect x="684.79" y="178.40" width="1.1" height="82.10" fill="#089981" opacity="0.8"/>
<rect x="683.39" y="210.80" width="3.9" height="41.20" fill="#089981"/>
<rect x="690.39" y="166.60" width="1.1" height="169.00" fill="#F23645" opacity="0.8"/>
<rect x="688.99" y="206.10" width="3.9" height="85.50" fill="#F23645"/>
<rect x="695.99" y="220.20" width="1.1" height="71.40" fill="#089981" opacity="0.8"/>
<rect x="694.59" y="288.75" width="3.9" height="2.85" fill="#089981"/>
<rect x="701.60" y="272.80" width="1.1" height="53.90" fill="#F23645" opacity="0.8"/>
<rect x="700.20" y="288.75" width="3.9" height="22.35" fill="#F23645"/>
<rect x="707.20" y="287.70" width="1.1" height="60.00" fill="#089981" opacity="0.8"/>
<rect x="705.80" y="293.10" width="3.9" height="18.80" fill="#089981"/>
<rect x="712.80" y="213.90" width="1.1" height="85.50" fill="#089981" opacity="0.8"/>
<rect x="711.40" y="226.40" width="3.9" height="66.70" fill="#089981"/>
<rect x="718.40" y="188.10" width="1.1" height="43.30" fill="#089981" opacity="0.8"/>
<rect x="717.00" y="192.00" width="3.9" height="32.80" fill="#089981"/>
<rect x="724.00" y="188.90" width="1.1" height="65.60" fill="#F23645" opacity="0.8"/>
<rect x="722.60" y="196.70" width="3.9" height="57.80" fill="#F23645"/>
<rect x="729.61" y="231.10" width="1.1" height="33.10" fill="#089981" opacity="0.8"/>
<rect x="728.21" y="236.90" width="3.9" height="17.60" fill="#089981"/>
<rect x="735.21" y="189.20" width="1.1" height="77.80" fill="#089981" opacity="0.8"/>
<rect x="733.81" y="189.20" width="3.9" height="48.10" fill="#089981"/>
<rect x="740.81" y="170.20" width="1.1" height="49.20" fill="#F23645" opacity="0.8"/>
<rect x="739.41" y="189.20" width="3.9" height="15.60" fill="#F23645"/>
<rect x="746.41" y="198.00" width="1.1" height="42.90" fill="#F23645" opacity="0.8"/>
<rect x="745.01" y="204.80" width="3.9" height="18.00" fill="#F23645"/>
<rect x="752.01" y="210.00" width="1.1" height="25.00" fill="#F23645" opacity="0.8"/>
<rect x="750.61" y="222.80" width="3.9" height="4.70" fill="#F23645"/>
<rect x="757.62" y="210.00" width="1.1" height="31.70" fill="#089981" opacity="0.8"/>
<rect x="756.22" y="226.40" width="3.9" height="7.00" fill="#089981"/>
<rect x="763.22" y="210.80" width="1.1" height="22.95" fill="#F23645" opacity="0.8"/>
<rect x="761.82" y="226.40" width="3.9" height="2.00" fill="#F23645"/>
<rect x="768.82" y="216.60" width="1.1" height="48.80" fill="#F23645" opacity="0.8"/>
<rect x="767.42" y="228.40" width="3.9" height="17.20" fill="#F23645"/>
<rect x="774.42" y="224.10" width="1.1" height="37.10" fill="#089981" opacity="0.8"/>
<rect x="773.02" y="230.00" width="3.9" height="15.60" fill="#089981"/>
<rect x="780.02" y="176.10" width="1.1" height="97.00" fill="#089981" opacity="0.8"/>
<rect x="778.62" y="181.90" width="3.9" height="48.70" fill="#089981"/>
<rect x="785.63" y="179.20" width="1.1" height="30.50" fill="#F23645" opacity="0.8"/>
<rect x="784.23" y="181.90" width="3.9" height="21.85" fill="#F23645"/>
<rect x="791.23" y="193.30" width="1.1" height="17.95" fill="#F23645" opacity="0.8"/>
<rect x="789.83" y="195.90" width="3.9" height="2.70" fill="#F23645"/>
<rect x="796.83" y="113.30" width="1.1" height="85.20" fill="#089981" opacity="0.8"/>
<rect x="795.43" y="114.40" width="3.9" height="84.10" fill="#089981"/>
<rect x="802.43" y="85.90" width="1.1" height="41.40" fill="#089981" opacity="0.8"/>
<rect x="801.03" y="107.00" width="3.9" height="7.80" fill="#089981"/>
<rect x="808.03" y="105.50" width="1.1" height="35.90" fill="#F23645" opacity="0.8"/>
<rect x="806.63" y="107.00" width="3.9" height="30.80" fill="#F23645"/>
<rect x="813.64" y="81.25" width="1.1" height="62.50" fill="#089981" opacity="0.8"/>
<rect x="812.24" y="99.50" width="3.9" height="39.25" fill="#089981"/>
<rect x="819.24" y="96.10" width="1.1" height="22.65" fill="#F23645" opacity="0.8"/>
<rect x="817.84" y="99.50" width="3.9" height="15.80" fill="#F23645"/>
<rect x="824.84" y="130.00" width="1.1" height="62.50" fill="#F23645" opacity="0.8"/>
<rect x="823.44" y="139.10" width="3.9" height="51.20" fill="#F23645"/>
<rect x="830.44" y="155.30" width="1.1" height="38.70" fill="#089981" opacity="0.8"/>
<rect x="829.04" y="169.50" width="3.9" height="21.40" fill="#089981"/>
<rect x="836.04" y="152.30" width="1.1" height="45.40" fill="#089981" opacity="0.8"/>
<rect x="834.64" y="161.30" width="3.9" height="8.20" fill="#089981"/>
<rect x="841.65" y="126.25" width="1.1" height="37.45" fill="#089981" opacity="0.8"/>
<rect x="840.25" y="157.00" width="3.9" height="4.70" fill="#089981"/>
<rect x="847.25" y="150.20" width="1.1" height="46.70" fill="#F23645" opacity="0.8"/>
<rect x="845.85" y="157.00" width="3.9" height="28.60" fill="#F23645"/>
<rect x="852.85" y="151.20" width="1.1" height="41.30" fill="#089981" opacity="0.8"/>
<rect x="851.45" y="157.00" width="3.9" height="28.60" fill="#089981"/>
<rect x="858.45" y="161.25" width="1.1" height="93.15" fill="#F23645" opacity="0.8"/>
<rect x="857.05" y="163.75" width="3.9" height="80.95" fill="#F23645"/>
<rect x="864.05" y="221.90" width="1.1" height="36.40" fill="#089981" opacity="0.8"/>
<rect x="862.65" y="240.30" width="3.9" height="4.60" fill="#089981"/>
<rect x="869.66" y="225.30" width="1.1" height="29.10" fill="#089981" opacity="0.8"/>
<rect x="868.26" y="238.30" width="3.9" height="2.60" fill="#089981"/>
<rect x="875.26" y="229.30" width="1.1" height="40.20" fill="#F23645" opacity="0.8"/>
<rect x="873.86" y="238.30" width="3.9" height="28.10" fill="#F23645"/>
<rect x="880.86" y="225.30" width="1.1" height="40.30" fill="#089981" opacity="0.8"/>
<rect x="879.46" y="230.90" width="3.9" height="34.70" fill="#089981"/>
<rect x="886.46" y="213.00" width="1.1" height="24.90" fill="#089981" opacity="0.8"/>
<rect x="885.06" y="224.20" width="3.9" height="7.05" fill="#089981"/>
<rect x="892.06" y="219.50" width="1.1" height="34.90" fill="#F23645" opacity="0.8"/>
<rect x="890.66" y="221.90" width="3.9" height="24.40" fill="#F23645"/>
<rect x="897.67" y="225.50" width="1.1" height="26.25" fill="#089981" opacity="0.8"/>
<rect x="896.27" y="226.30" width="3.9" height="20.30" fill="#089981"/>
</g>
<line x1="10" y1="226.6" x2="957" y2="226.6" stroke="#089981" stroke-width="1.3" stroke-dasharray="0.95 1.31" opacity="0.62"/>
<rect x="9.5" y="25.5" width="1004.5" height="582.5" fill="none" stroke="#e8e9ed" stroke-width="1"/>
<text x="9.8" y="18.5" font-size="12.2" fill="#232733" stroke="#232733" stroke-width="0.3" textLength="69.3" lengthAdjust="spacingAndGlyphs">angiepanoyan</text>
<text x="82.4" y="18.5" font-size="12.2" fill="#232733" stroke="#232733" stroke-width="0.3" textLength="46.9" lengthAdjust="spacingAndGlyphs">published</text>
<text x="133.8" y="18.5" font-size="12.2" fill="#232733" stroke="#232733" stroke-width="0.3" textLength="11.1" lengthAdjust="spacingAndGlyphs">on</text>
<text x="149.4" y="18.5" font-size="12.2" fill="#232733" stroke="#232733" stroke-width="0.3" textLength="86.7" lengthAdjust="spacingAndGlyphs">TradingView.com,</text>
<text x="241.4" y="18.5" font-size="12.2" fill="#232733" stroke="#232733" stroke-width="0.3" textLength="16.8" lengthAdjust="spacingAndGlyphs">Jan</text>
<text x="262.1" y="18.5" font-size="12.2" fill="#232733" stroke="#232733" stroke-width="0.3" textLength="13.1" lengthAdjust="spacingAndGlyphs">29,</text>
<text x="281.0" y="18.5" font-size="12.2" fill="#232733" stroke="#232733" stroke-width="0.3" textLength="22.5" lengthAdjust="spacingAndGlyphs">2025</text>
<text x="307.8" y="18.5" font-size="12.2" fill="#232733" stroke="#232733" stroke-width="0.3" textLength="27.0" lengthAdjust="spacingAndGlyphs">05:19</text>
<text x="339.0" y="18.5" font-size="12.2" fill="#232733" stroke="#232733" stroke-width="0.3" textLength="19.6" lengthAdjust="spacingAndGlyphs">UTC</text>
<text x="17.5" y="43.7" font-size="11.3" fill="#232733" stroke="#232733" stroke-width="0.3" textLength="20.5" lengthAdjust="spacingAndGlyphs">New</text>
<text x="43.0" y="43.7" font-size="11.3" fill="#232733" stroke="#232733" stroke-width="0.3" textLength="38.4" lengthAdjust="spacingAndGlyphs">Zealand</text>
<text x="85.9" y="43.7" font-size="11.3" fill="#232733" stroke="#232733" stroke-width="0.3" textLength="28.4" lengthAdjust="spacingAndGlyphs">Dollar</text>
<text x="119.3" y="43.7" font-size="11.3" fill="#232733" stroke="#232733" stroke-width="0.3" textLength="3.9" lengthAdjust="spacingAndGlyphs">/</text>
<text x="127.9" y="43.7" font-size="11.3" fill="#232733" stroke="#232733" stroke-width="0.3" textLength="19.6" lengthAdjust="spacingAndGlyphs">U.S.</text>
<text x="152.3" y="43.7" font-size="11.3" fill="#232733" stroke="#232733" stroke-width="0.3" textLength="29.3" lengthAdjust="spacingAndGlyphs">Dollar,</text>
<text x="187.1" y="43.7" font-size="11.3" fill="#232733" stroke="#232733" stroke-width="0.3" textLength="13.9" lengthAdjust="spacingAndGlyphs">4h,</text>
<text x="207.4" y="43.7" font-size="11.3" fill="#232733" stroke="#232733" stroke-width="0.3" textLength="34.0" lengthAdjust="spacingAndGlyphs">OANDA</text>
<text x="248.8" y="43.7" font-size="11.3" fill="#232733" stroke="#232733" stroke-width="0.3" textLength="7" lengthAdjust="spacingAndGlyphs">O</text>
<text x="256.6" y="43.7" font-size="11.3" fill="#12a08a" stroke="#12a08a" stroke-width="0.3" textLength="39.1" lengthAdjust="spacingAndGlyphs">0.56574</text>
<text x="302.9" y="43.7" font-size="11.3" fill="#232733" stroke="#232733" stroke-width="0.3" textLength="6.2" lengthAdjust="spacingAndGlyphs">H</text>
<text x="309.8" y="43.7" font-size="11.3" fill="#12a08a" stroke="#12a08a" stroke-width="0.3" textLength="39.0" lengthAdjust="spacingAndGlyphs">0.56658</text>
<text x="356.2" y="43.7" font-size="11.3" fill="#232733" stroke="#232733" stroke-width="0.3" textLength="4.6" lengthAdjust="spacingAndGlyphs">L</text>
<text x="361.1" y="43.7" font-size="11.3" fill="#12a08a" stroke="#12a08a" stroke-width="0.3" textLength="38.8" lengthAdjust="spacingAndGlyphs">0.56553</text>
<text x="407.3" y="43.7" font-size="11.3" fill="#232733" stroke="#232733" stroke-width="0.3" textLength="6.3" lengthAdjust="spacingAndGlyphs">C</text>
<text x="414.2" y="43.7" font-size="11.3" fill="#12a08a" stroke="#12a08a" stroke-width="0.3" textLength="39.0" lengthAdjust="spacingAndGlyphs">0.56656</text>
<text x="461" y="43.7" font-size="11.3" fill="#12a08a" stroke="#12a08a" stroke-width="0.3" textLength="43.6" lengthAdjust="spacingAndGlyphs">+0.00080</text>
<text x="509.9" y="43.7" font-size="11.3" fill="#12a08a" stroke="#12a08a" stroke-width="0.3" textLength="41.6" lengthAdjust="spacingAndGlyphs">(+0.14%)</text>
<text x="17.5" y="59.4" font-size="11.3" fill="#232733" stroke="#232733" stroke-width="0.3" textLength="14.4" lengthAdjust="spacingAndGlyphs">Vol</text>
<text x="36.2" y="59.4" font-size="11.3" fill="#232733" stroke="#232733" stroke-width="0.3" textLength="2.0" lengthAdjust="spacingAndGlyphs">·</text>
<text x="43.7" y="59.4" font-size="11.3" fill="#232733" stroke="#232733" stroke-width="0.3" textLength="24.4" lengthAdjust="spacingAndGlyphs">Ticks</text>
<text x="74.75" y="59.4" font-size="11.3" fill="#3aaea3" stroke="#3aaea3" stroke-width="0.3" textLength="21.2" lengthAdjust="spacingAndGlyphs">6.42</text>
<text x="98.75" y="59.4" font-size="11.3" fill="#3aaea3" stroke="#3aaea3" stroke-width="0.3" textLength="6.5" lengthAdjust="spacingAndGlyphs">K</text>
<text x="965" y="44.4" font-size="11.7" fill="#232733" stroke="#232733" stroke-width="0.3" textLength="39.9" lengthAdjust="spacingAndGlyphs">0.57400</text>
<text x="965" y="94.39999999999999" font-size="11.7" fill="#232733" stroke="#232733" stroke-width="0.3" textLength="39.9" lengthAdjust="spacingAndGlyphs">0.57200</text>
<text x="965" y="144.4" font-size="11.7" fill="#232733" stroke="#232733" stroke-width="0.3" textLength="39.9" lengthAdjust="spacingAndGlyphs">0.57000</text>
<text x="965" y="194.4" font-size="11.7" fill="#232733" stroke="#232733" stroke-width="0.3" textLength="39.9" lengthAdjust="spacingAndGlyphs">0.56800</text>
<text x="965" y="244.4" font-size="11.7" fill="#232733" stroke="#232733" stroke-width="0.3" textLength="39.9" lengthAdjust="spacingAndGlyphs">0.56600</text>
<text x="965" y="294.40000000000003" font-size="11.7" fill="#232733" stroke="#232733" stroke-width="0.3" textLength="39.9" lengthAdjust="spacingAndGlyphs">0.56400</text>
<text x="965" y="344.40000000000003" font-size="11.7" fill="#232733" stroke="#232733" stroke-width="0.3" textLength="39.9" lengthAdjust="spacingAndGlyphs">0.56200</text>
<text x="965" y="394.40000000000003" font-size="11.7" fill="#232733" stroke="#232733" stroke-width="0.3" textLength="39.9" lengthAdjust="spacingAndGlyphs">0.56000</text>
<text x="965" y="444.40000000000003" font-size="11.7" fill="#232733" stroke="#232733" stroke-width="0.3" textLength="39.9" lengthAdjust="spacingAndGlyphs">0.55800</text>
<text x="965" y="494.40000000000003" font-size="11.7" fill="#232733" stroke="#232733" stroke-width="0.3" textLength="39.9" lengthAdjust="spacingAndGlyphs">0.55600</text>
<text x="965" y="544.4" font-size="11.7" fill="#232733" stroke="#232733" stroke-width="0.3" textLength="39.9" lengthAdjust="spacingAndGlyphs">0.55400</text>
<path d="M957.2 218.8 H1008.4 a2 2 0 0 1 2 2 V245.8 a2 2 0 0 1 -2 2 H957.2 Z" fill="#089981"/>
<text x="965.7" y="231.0" font-size="12" fill="#ffffff" stroke="#ffffff" stroke-width="0.3" textLength="39.3" lengthAdjust="spacingAndGlyphs">0.56656</text>
<text x="966" y="244.0" font-size="11.2" fill="#d6efe9" stroke="#d6efe9" stroke-width="0.3" textLength="27.2" lengthAdjust="spacingAndGlyphs">40:19</text>
<path d="M957.2 548.4 H998.7 a2 2 0 0 1 2 2 V561.7 a2 2 0 0 1 -2 2 H957.2 Z" fill="#26a69a"/>
<text x="965.8" y="560.3" font-size="11.6" fill="#ffffff" stroke="#ffffff" stroke-width="0.3" textLength="30.8" lengthAdjust="spacingAndGlyphs">6.42 K</text>
<text x="52.1" y="599.2" font-size="11.8" fill="#232733" stroke="#232733" stroke-width="0.3" textLength="11.4" lengthAdjust="spacingAndGlyphs">23</text>
<text x="152.9" y="599.2" font-size="11.8" fill="#232733" stroke="#232733" stroke-width="0.3" textLength="11.4" lengthAdjust="spacingAndGlyphs">27</text>
<text x="241.05" y="599.2" font-size="11.8" fill="#232733" stroke="#232733" stroke-width="0.3" font-weight="bold" textLength="25.3" lengthAdjust="spacingAndGlyphs">2025</text>
<text x="357.2" y="599.2" font-size="11.8" fill="#232733" stroke="#232733" stroke-width="0.3" textLength="5.6" lengthAdjust="spacingAndGlyphs">7</text>
<text x="489.0" y="599.2" font-size="11.8" fill="#232733" stroke="#232733" stroke-width="0.3" textLength="11.4" lengthAdjust="spacingAndGlyphs">13</text>
<text x="565.05" y="599.2" font-size="11.8" fill="#232733" stroke="#232733" stroke-width="0.3" textLength="27.5" lengthAdjust="spacingAndGlyphs">14:00</text>
<text x="656.7" y="599.2" font-size="11.8" fill="#232733" stroke="#232733" stroke-width="0.3" textLength="11.6" lengthAdjust="spacingAndGlyphs">20</text>
<text x="733.45" y="599.2" font-size="11.8" fill="#232733" stroke="#232733" stroke-width="0.3" textLength="27.5" lengthAdjust="spacingAndGlyphs">14:00</text>
<text x="825.1" y="599.2" font-size="11.8" fill="#232733" stroke="#232733" stroke-width="0.3" textLength="11.4" lengthAdjust="spacingAndGlyphs">27</text>
<text x="925.5" y="599.2" font-size="11.8" fill="#232733" stroke="#232733" stroke-width="0.3" textLength="11.6" lengthAdjust="spacingAndGlyphs">30</text>
<g><circle cx="898.05" cy="569.5" r="9.2" fill="#fff" stroke="#9c27b0" stroke-width="1.4"/><path d="M900.9 564.7 L894.9 569.8 L901.4 569.0 L895.4 574.5" fill="none" stroke="#9c27b0" stroke-width="1.45" stroke-linejoin="bevel" stroke-linecap="round"/></g>
<g><circle cx="920.2" cy="569.6" r="9.55" fill="#fff" stroke="#f04a5a" stroke-width="1.6"/><clipPath id="fc920"><circle cx="920.2" cy="569.6" r="7.7"/></clipPath><g clip-path="url(#fc920)"><rect x="912.2" y="561.6" width="16" height="16" fill="#fff"/><rect x="912.2" y="562.9" width="16" height="2.6" fill="#ef5350"/><rect x="912.2" y="568.1" width="16" height="3.3" fill="#ef5350"/><rect x="912.2" y="573.9" width="16" height="2.9" fill="#ef5350"/><rect x="912.2" y="561.6" width="9.6" height="10.0" fill="#1e88e5"/><rect x="914.6" y="564.4" width="0.8" height="0.8" fill="#dbeafb"/><rect x="916.8" y="564.4" width="0.8" height="0.8" fill="#dbeafb"/><rect x="919.0" y="564.4" width="0.8" height="0.8" fill="#dbeafb"/><rect x="914.6" y="566.8" width="0.8" height="0.8" fill="#dbeafb"/><rect x="916.8" y="566.8" width="0.8" height="0.8" fill="#dbeafb"/><rect x="919.0" y="566.8" width="0.8" height="0.8" fill="#dbeafb"/><rect x="914.6" y="569.2" width="0.8" height="0.8" fill="#dbeafb"/><rect x="916.8" y="569.2" width="0.8" height="0.8" fill="#dbeafb"/><rect x="919.0" y="569.2" width="0.8" height="0.8" fill="#dbeafb"/></g></g>
<g><circle cx="942.5" cy="569.6" r="9.55" fill="#fff" stroke="#f04a5a" stroke-width="1.6"/><clipPath id="fc942"><circle cx="942.5" cy="569.6" r="7.7"/></clipPath><g clip-path="url(#fc942)"><rect x="934.5" y="561.6" width="16" height="16" fill="#fff"/><rect x="934.5" y="562.9" width="16" height="2.6" fill="#ef5350"/><rect x="934.5" y="568.1" width="16" height="3.3" fill="#ef5350"/><rect x="934.5" y="573.9" width="16" height="2.9" fill="#ef5350"/><rect x="934.5" y="561.6" width="9.6" height="10.0" fill="#1e88e5"/><rect x="936.9" y="564.4" width="0.8" height="0.8" fill="#dbeafb"/><rect x="939.1" y="564.4" width="0.8" height="0.8" fill="#dbeafb"/><rect x="941.3" y="564.4" width="0.8" height="0.8" fill="#dbeafb"/><rect x="936.9" y="566.8" width="0.8" height="0.8" fill="#dbeafb"/><rect x="939.1" y="566.8" width="0.8" height="0.8" fill="#dbeafb"/><rect x="941.3" y="566.8" width="0.8" height="0.8" fill="#dbeafb"/><rect x="936.9" y="569.2" width="0.8" height="0.8" fill="#dbeafb"/><rect x="939.1" y="569.2" width="0.8" height="0.8" fill="#dbeafb"/><rect x="941.3" y="569.2" width="0.8" height="0.8" fill="#dbeafb"/></g></g>
<g fill="#1e222d"><path d="M10 620 H17.6 V628.75 H13.6 V623.9 H10 Z"/><circle cx="19.7" cy="621.7" r="1.75"/><path d="M23.0 620 H27.75 L24.3 628.75 H19.7 Z"/></g>
<text x="31.9" y="628.75" font-size="11.3" fill="#2a2e39" stroke="#2a2e39" stroke-width="0.3" textLength="65" lengthAdjust="spacingAndGlyphs">TradingView</text>
</svg>
</body></html>
